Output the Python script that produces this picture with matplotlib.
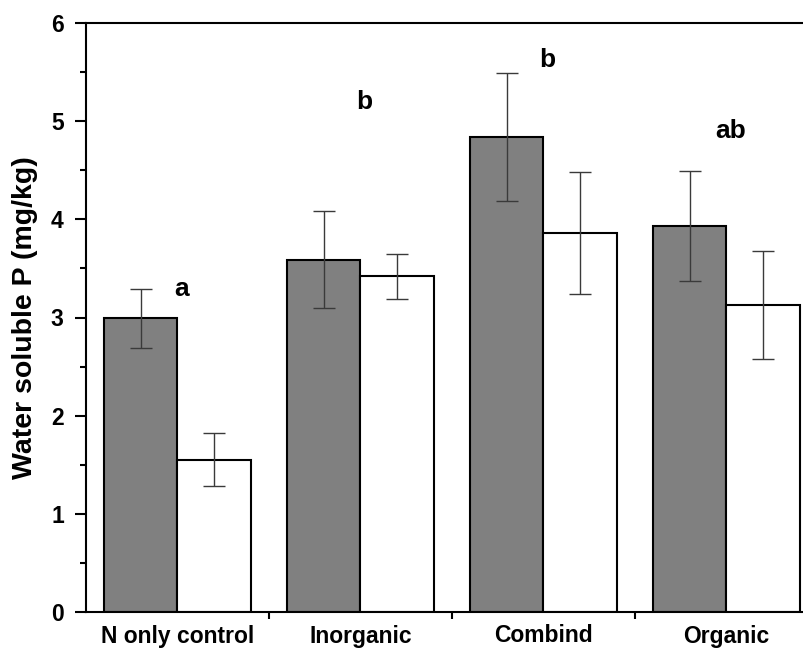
import matplotlib
matplotlib.use("Agg")
import matplotlib.pyplot as plt
import numpy as np

plt.rcParams['font.family'] = ['Liberation Sans', 'DejaVu Sans']
plt.rcParams['font.weight'] = 'bold'

categories = ['N only control', 'Inorganic', 'Combind', 'Organic']
grey_vals = [2.99, 3.59, 4.84, 3.93]
grey_err = [0.30, 0.49, 0.65, 0.56]
white_vals = [1.55, 3.42, 3.86, 3.13]
white_err = [0.27, 0.23, 0.62, 0.55]
letters = ['a', 'b', 'b', 'ab']
letter_y = [3.29, 5.20, 5.62, 4.90]

fig = plt.figure(figsize=(8.04, 6.53), dpi=100)
ax = fig.add_axes([86/804, 41/653, 732/804, 589/653])

centers = np.arange(len(categories)) + 0.5
w = 0.4
ax.bar(centers - w/2, grey_vals, w, color='#808080', edgecolor='black', linewidth=1.5)
ax.bar(centers + w/2, white_vals, w, color='white', edgecolor='black', linewidth=1.5)
ax.errorbar(centers - w/2, grey_vals, yerr=grey_err, fmt='none', ecolor='#3a3a3a',
            elinewidth=1, capsize=8, capthick=1)
ax.errorbar(centers + w/2, white_vals, yerr=white_err, fmt='none', ecolor='#3a3a3a',
            elinewidth=1, capsize=8, capthick=1)

for c, t, y in zip(centers, letters, letter_y):
    ax.text(c + 0.02, y, t, ha='center', va='center', fontsize=19, fontweight='bold')

ax.set_xlim(0, 4)
ax.set_ylim(0, 6)
ax.set_xticks([1, 2, 3])
ax.set_xticklabels([])
ax.set_xticks(centers, minor=True)
ax.set_xticklabels(categories, minor=True, fontsize=16.5, fontweight='bold')
ax.tick_params(axis='x', which='major', direction='out', length=5, width=1.5)
ax.tick_params(axis='x', which='minor', length=0, pad=9)
ax.set_yticks(range(7))
ax.set_yticks(np.arange(0.5, 6, 1), minor=True)
ax.tick_params(axis='y', which='major', direction='out', length=8, width=1.5, labelsize=16.5, pad=8)
ax.tick_params(axis='y', which='minor', direction='out', length=4, width=1.5)
for lab in ax.get_yticklabels():
    lab.set_fontweight('bold')
ax.set_ylabel('Water soluble P (mg/kg)', fontsize=20.5, fontweight='bold', labelpad=9)
for s in ax.spines.values():
    s.set_linewidth(1.5)

fig.savefig('out.png', dpi=100)
